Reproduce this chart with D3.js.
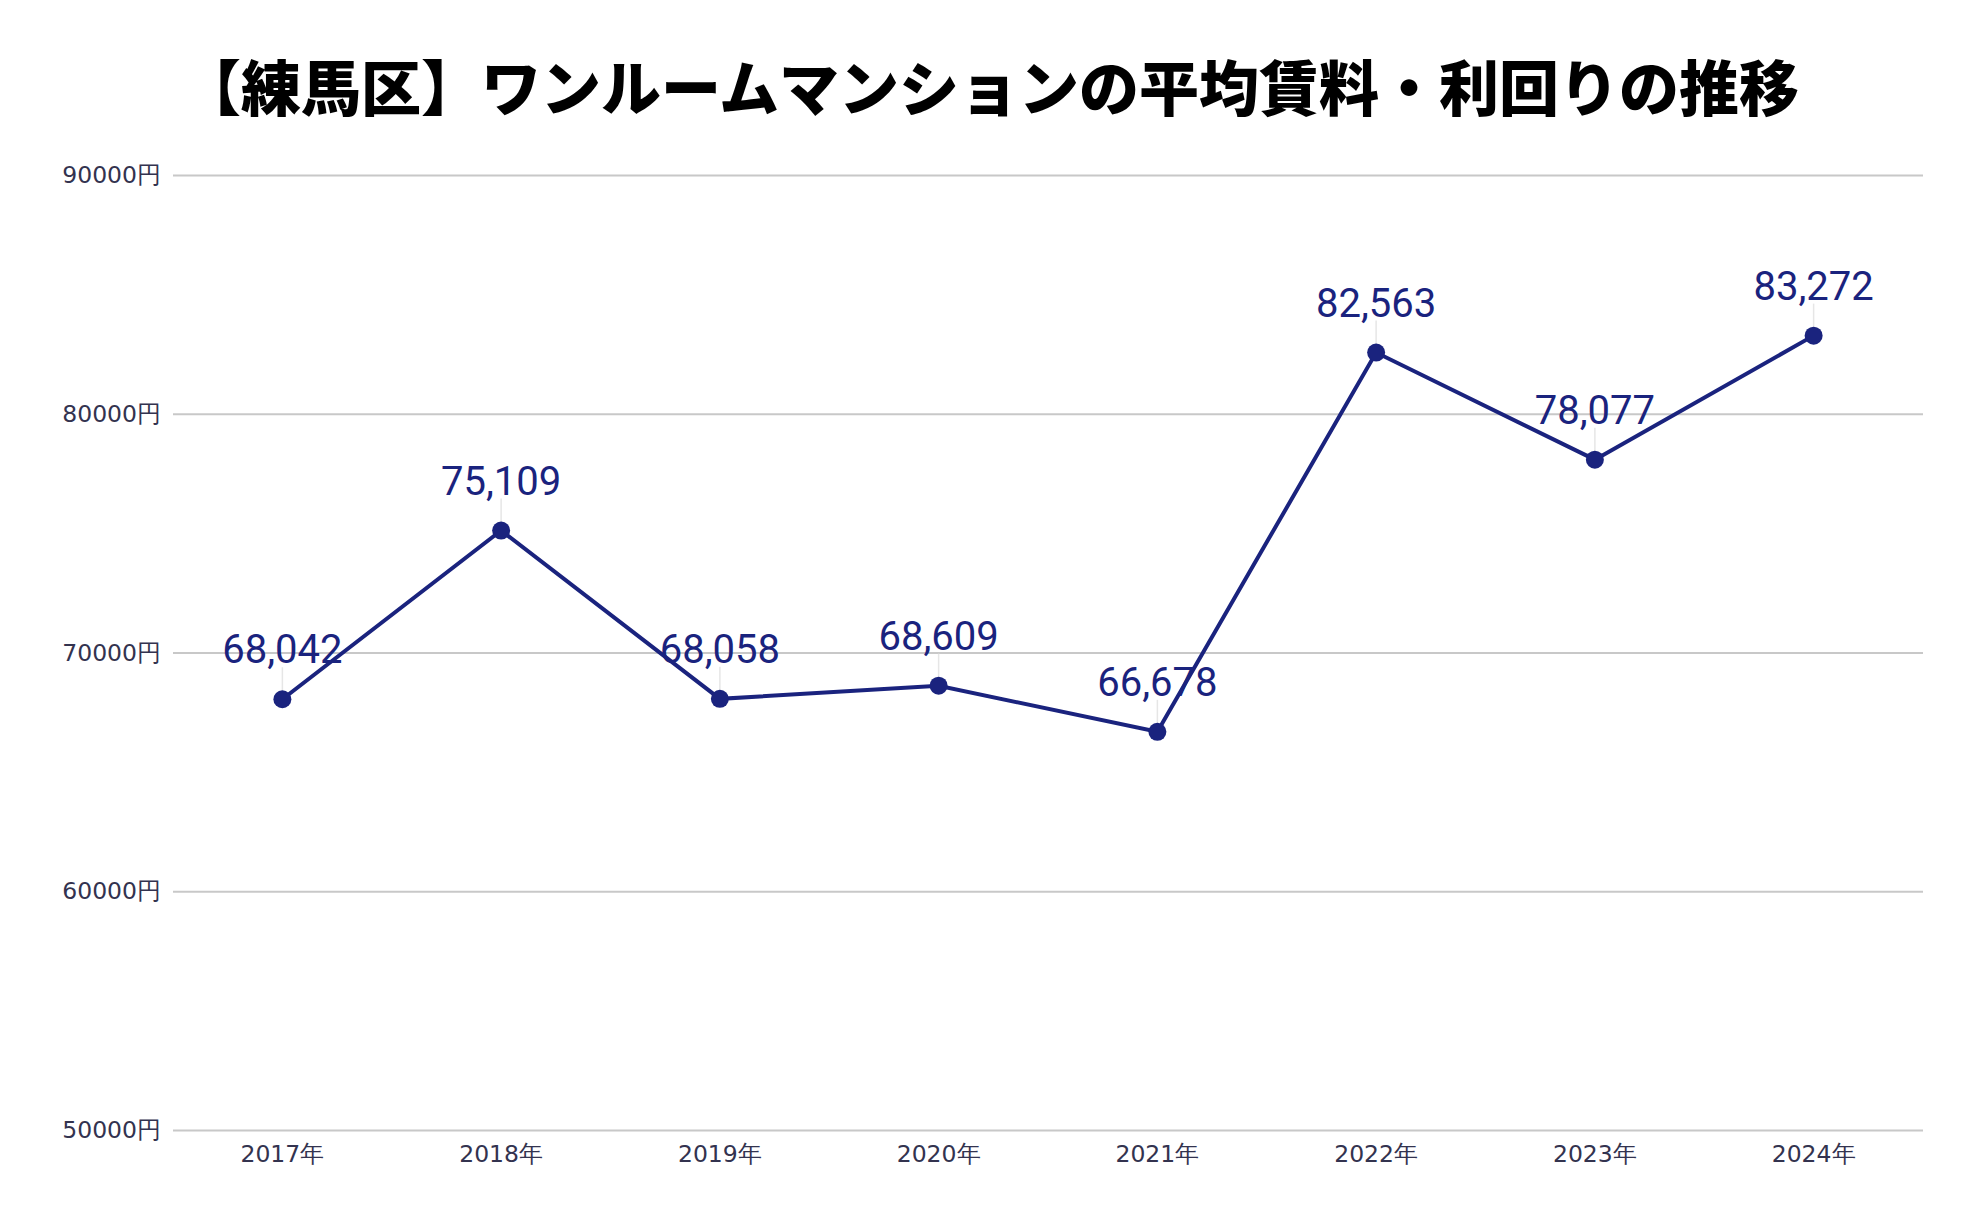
<!DOCTYPE html>
<html><head><meta charset="utf-8">
<script src="https://cdn.jsdelivr.net/npm/d3@7"></script>
<style>
html,body{margin:0;padding:0;background:#fff;}
svg{display:block;}
</style></head>
<body>
<svg id="chart" width="1984" height="1228"></svg>
<script>
const titleText = "【練馬区】ワンルームマンションの平均賃料・利回りの推移";
const years = ["2017年","2018年","2019年","2020年","2021年","2022年","2023年","2024年"];
const rents = [68042, 75109, 68058, 68609, 66678, 82563, 78077, 83272];
const yTicks = [50000, 60000, 70000, 80000, 90000];

const W = 1984, H = 1228;
const m = {left:173, right:61, top:175, bottom:98};
const svg = d3.select("#chart");

const x = d3.scaleBand().domain(years).range([m.left, W - m.right]);
const y = d3.scaleLinear().domain([50000, 90000]).range([H - m.bottom, m.top]);

svg.append("text")
  .attr("x", 990).attr("y", 111)
  .attr("text-anchor", "middle")
  .attr("font-family", "'Noto Sans CJK JP', sans-serif")
  .attr("font-weight", 900)
  .attr("font-size", 60)
  .attr("fill", "#000")
  .text(titleText);

// grid
const yAxis = d3.axisLeft(y).tickValues(yTicks).tickSize(-(W - m.left - m.right)).tickPadding(12)
  .tickFormat(d => d + "円");
const gy = svg.append("g").attr("transform", `translate(${m.left},0)`).call(yAxis);
gy.select(".domain").remove();
gy.selectAll(".tick line").attr("stroke", "#c8c8c8").attr("stroke-width", 2);
gy.selectAll(".tick text")
  .attr("font-family", "'DejaVu Sans', sans-serif")
  .attr("font-size", 23.5)
  .attr("fill", "#33334f");

const xAxis = d3.axisBottom(x).tickSize(0).tickPadding(11);
const gx = svg.append("g").attr("transform", `translate(0,${H - m.bottom})`).call(xAxis);
gx.select(".domain").remove();
gx.selectAll(".tick text")
  .attr("font-family", "'DejaVu Sans', sans-serif")
  .attr("font-size", 23.5)
  .attr("dy", "0.9em")
  .attr("fill", "#33334f");

const cx = d => x(d) + x.bandwidth() / 2;
const pts = years.map((yr, i) => ({yr, v: rents[i]}));

// leader lines
svg.append("g").selectAll("line").data(pts).join("line")
  .attr("x1", d => cx(d.yr)).attr("x2", d => cx(d.yr))
  .attr("y1", d => y(d.v) - 8).attr("y2", d => y(d.v) - 32)
  .attr("stroke", "#e6e6e6").attr("stroke-width", 1.5);

const line = d3.line().x(d => cx(d.yr)).y(d => y(d.v));
svg.append("path").datum(pts)
  .attr("d", line)
  .attr("fill", "none")
  .attr("stroke", "#1a237e")
  .attr("stroke-width", 4);

svg.append("g").selectAll("circle").data(pts).join("circle")
  .attr("cx", d => cx(d.yr)).attr("cy", d => y(d.v)).attr("r", 9)
  .attr("fill", "#1a237e");

svg.append("g").selectAll("text").data(pts).join("text")
  .attr("x", d => cx(d.yr)).attr("y", d => y(d.v) - 36)
  .attr("text-anchor", "middle")
  .attr("font-family", "Roboto, sans-serif")
  .attr("font-size", 40)
  .attr("fill", "#1a237e")
  .text(d => d3.format(",")(d.v));
</script>
</body></html>
